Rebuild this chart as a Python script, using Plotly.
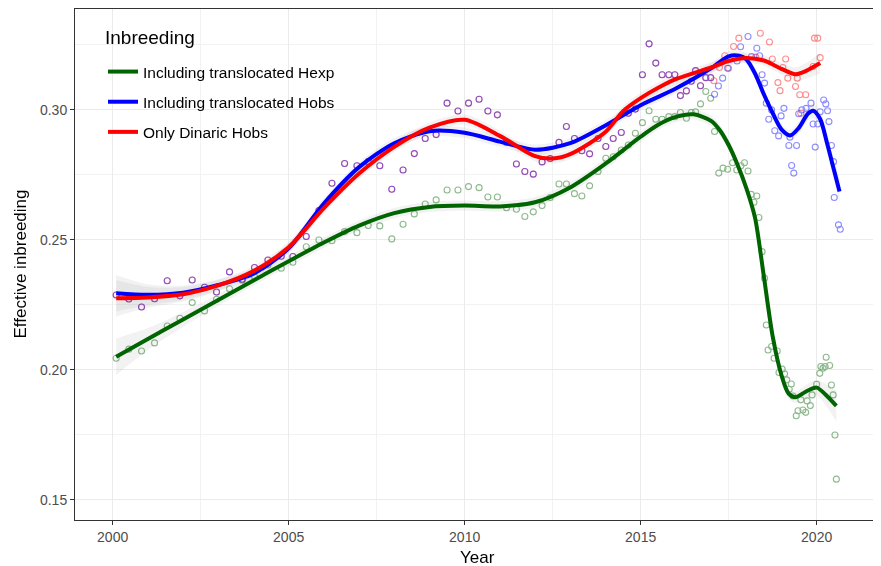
import plotly.graph_objects as go

# ---------------- data ----------------
years_shared = [2000.10, 2000.46, 2000.82, 2001.19, 2001.55, 2001.91, 2002.26, 2002.61, 2002.95, 2003.32,
                2003.68, 2004.03, 2004.41, 2004.79, 2005.12, 2005.50, 2005.86, 2006.23, 2006.59, 2006.94,
                2007.26, 2007.59, 2007.93, 2008.25, 2008.57, 2008.88, 2009.19, 2009.50, 2009.81, 2010.11,
                2010.41, 2010.66, 2010.93, 2011.19, 2011.47, 2011.71, 2011.95, 2012.20, 2012.43, 2012.68,
                2012.89, 2013.12, 2013.33, 2013.55, 2013.79, 2014.01, 2014.22, 2014.45, 2014.65, 2014.85,
                2015.05, 2015.24, 2015.43, 2015.61, 2015.80, 2015.97, 2016.13, 2016.30, 2016.44, 2016.56,
                2016.70, 2016.85, 2016.99]
hobs_shared = [0.2288, 0.2273, 0.2242, 0.2274, 0.2343, 0.2285, 0.2346, 0.2318, 0.2300, 0.2377,
               0.2349, 0.2394, 0.2423, 0.2437, 0.2436, 0.2513, 0.2613, 0.2718, 0.2794, 0.2785,
               0.2801, 0.2785, 0.2695, 0.2769, 0.2832, 0.2890, 0.2905, 0.3026, 0.2996, 0.3026,
               0.3041, 0.2996, 0.2981, 0.2876, 0.2792, 0.2763, 0.2753, 0.2800, 0.2813, 0.2875,
               0.2936, 0.2890, 0.2843, 0.2831, 0.2890, 0.2859, 0.2890, 0.2913, 0.2987, 0.3003,
               0.3135, 0.3254, 0.3180, 0.3135, 0.3135, 0.3135, 0.3055, 0.3073, 0.3110, 0.3151,
               0.3093, 0.3124, 0.3124]
hexp_shared = [0.2045, 0.2080, 0.2073, 0.2104, 0.2169, 0.2199, 0.2259, 0.2227, 0.2272, 0.2312,
               0.2345, 0.2359, 0.2404, 0.2391, 0.2414, 0.2474, 0.2500, 0.2497, 0.2532, 0.2528,
               0.2555, 0.2554, 0.2504, 0.2560, 0.2600, 0.2638, 0.2654, 0.2692, 0.2692, 0.2705,
               0.2701, 0.2665, 0.2665, 0.2624, 0.2618, 0.2590, 0.2608, 0.2632, 0.2663, 0.2715,
               0.2715, 0.2678, 0.2669, 0.2708, 0.2763, 0.2814, 0.2820, 0.2846, 0.2865, 0.2910,
               0.2951, 0.2997, 0.2964, 0.2964, 0.2974, 0.2974, 0.2990, 0.2968, 0.2990, 0.2993,
               0.3023, 0.3071, 0.3045]

years_hexp_late = [2017.10, 2017.22, 2017.34, 2017.47, 2017.61, 2017.73, 2017.85, 2017.95, 2018.05, 2018.14,
                   2018.22, 2018.30, 2018.36, 2018.45, 2018.52, 2018.57, 2018.62, 2018.72, 2018.79, 2018.88,
                   2018.93, 2019.02, 2019.09, 2019.15, 2019.22, 2019.28, 2019.33, 2019.42, 2019.47, 2019.55,
                   2019.61, 2019.69, 2019.73, 2019.82, 2019.87, 2020.00, 2020.09, 2020.12, 2020.18, 2020.24,
                   2020.27, 2020.37, 2020.42, 2020.47, 2020.52, 2020.56]
hexp_late = [0.2917, 0.2757, 0.2776, 0.2772, 0.2797, 0.2769, 0.2785, 0.2797, 0.2765, 0.2675,
             0.2645, 0.2669, 0.2586, 0.2455, 0.2353, 0.2173, 0.2077, 0.2090, 0.2045, 0.2073,
             0.1990, 0.2003, 0.1985, 0.1962, 0.1926, 0.1946, 0.1900, 0.1824, 0.1843, 0.1885,
             0.1846, 0.1837, 0.1881, 0.1863, 0.1904, 0.1945, 0.1987, 0.2013, 0.2007, 0.2013,
             0.2049, 0.2017, 0.1942, 0.1904, 0.1750, 0.1580]

years_hobs_late = [2017.10, 2017.21, 2017.33, 2017.47, 2017.74, 2017.84, 2018.05, 2018.15, 2018.30, 2018.38,
                   2018.45, 2018.52, 2018.57, 2018.64, 2018.72, 2018.81, 2018.92, 2018.99, 2019.07, 2019.21,
                   2019.24, 2019.29, 2019.35, 2019.43, 2019.49, 2019.58, 2019.70, 2019.84, 2019.90, 2019.96,
                   2020.03, 2020.10, 2020.20, 2020.26, 2020.31, 2020.35, 2020.42, 2020.48, 2020.50, 2020.62,
                   2020.67]
hobs_late = [0.3060, 0.3092, 0.3122, 0.3160, 0.3188, 0.3243, 0.3282, 0.3205, 0.3237, 0.3208,
             0.3135, 0.3103, 0.3026, 0.2964, 0.3000, 0.2920, 0.2900, 0.2977, 0.3006, 0.2863,
             0.2895, 0.2786, 0.2757, 0.2863, 0.2985, 0.3000, 0.3006, 0.3026, 0.2946, 0.2857,
             0.2946, 0.2993, 0.3038, 0.3023, 0.2997, 0.2955, 0.2863, 0.2801, 0.2663, 0.2558,
             0.2541]

years_dinaric_late = [2017.08, 2017.24, 2017.39, 2017.50, 2017.64, 2017.79, 2018.27, 2018.40, 2018.66, 2018.74,
                      2018.90, 2018.96, 2019.04, 2019.12, 2019.18, 2019.40, 2019.45, 2019.52, 2019.55, 2019.69,
                      2019.90, 2019.94, 2020.03, 2020.10]
dinaric_late = [0.3112, 0.3163, 0.3208, 0.3160, 0.3244, 0.3276, 0.3203, 0.3295, 0.3261, 0.3196,
                0.3105, 0.3074, 0.3163, 0.3196, 0.3122, 0.3090, 0.3122, 0.3058, 0.2987, 0.3058,
                0.3167, 0.3276, 0.3276, 0.3201]

# smoothed fits and ribbon half-widths
fit_hexp_x = [2000.10, 2001.0, 2002.0, 2003.0, 2004.0, 2005.0, 2006.0, 2007.0, 2008.0, 2009.0,
              2010.0, 2011.0, 2012.0, 2013.0, 2014.0, 2015.0, 2015.5, 2016.0, 2016.5, 2017.0,
              2017.25, 2017.5, 2017.75, 2018.0, 2018.25, 2018.5, 2018.75, 2019.0, 2019.2, 2019.4,
              2019.7, 2020.0, 2020.25, 2020.56]
fit_hexp_y = [0.2051, 0.2119, 0.2194, 0.2269, 0.2344, 0.2418, 0.2490, 0.2555, 0.2603, 0.2627,
              0.2632, 0.2629, 0.2645, 0.2702, 0.2793, 0.2897, 0.2943, 0.2973, 0.2983, 0.2958,
              0.2922, 0.2865, 0.2790, 0.2700, 0.2585, 0.2360, 0.2130, 0.1980, 0.1910, 0.1895,
              0.1917, 0.1932, 0.1906, 0.1862]
fit_hexp_se = [0.0070, 0.0042, 0.0028, 0.0022, 0.0020, 0.0020, 0.0020, 0.0020, 0.0020, 0.0020,
               0.0020, 0.0020, 0.0020, 0.0020, 0.0020, 0.0020, 0.0020, 0.0020, 0.0020, 0.0020,
               0.0020, 0.0020, 0.0020, 0.0020, 0.0020, 0.0020, 0.0020, 0.0020, 0.0020, 0.0022,
               0.0025, 0.0030, 0.0040, 0.0060]

fit_hobs_x = [2000.10, 2001.0, 2002.0, 2003.0, 2004.0, 2005.0, 2006.0, 2007.0, 2008.0, 2009.0,
              2010.0, 2011.0, 2012.0, 2013.0, 2014.0, 2015.0, 2016.0, 2017.0, 2017.5, 2017.8,
              2018.0, 2018.25, 2018.5, 2018.75, 2019.0, 2019.25, 2019.5, 2019.75, 2019.9, 2020.1,
              2020.3, 2020.5, 2020.65]
fit_hobs_y = [0.2295, 0.2289, 0.2297, 0.2327, 0.2370, 0.2468, 0.2640, 0.2780, 0.2872, 0.2918,
              0.2912, 0.2878, 0.2847, 0.2872, 0.2940, 0.3018, 0.3082, 0.3160, 0.3206, 0.3208,
              0.3195, 0.3140, 0.3060, 0.2988, 0.2925, 0.2902, 0.2932, 0.2985, 0.2997, 0.2965,
              0.2870, 0.2765, 0.2686]
fit_hobs_se = [0.0070, 0.0040, 0.0028, 0.0022, 0.0020, 0.0020, 0.0020, 0.0020, 0.0020, 0.0020,
               0.0020, 0.0020, 0.0020, 0.0020, 0.0020, 0.0020, 0.0020, 0.0020, 0.0020, 0.0020,
               0.0020, 0.0020, 0.0020, 0.0020, 0.0020, 0.0020, 0.0022, 0.0025, 0.0028, 0.0030,
               0.0035, 0.0040, 0.0045]

fit_dinaric_x = [2000.10, 2001.0, 2002.0, 2003.0, 2004.0, 2005.0, 2006.0, 2007.0, 2008.0, 2009.0,
                 2010.0, 2011.0, 2012.0, 2012.5, 2013.0, 2014.0, 2014.5, 2015.0, 2015.5, 2016.0,
                 2017.0, 2017.5, 2018.0, 2018.5, 2019.0, 2019.4, 2019.7, 2020.1]
fit_dinaric_y = [0.2276, 0.2279, 0.2291, 0.2325, 0.2380, 0.2472, 0.2622, 0.2755, 0.2858, 0.2932,
                 0.2962, 0.2900, 0.2822, 0.2813, 0.2830, 0.2915, 0.2995, 0.3045, 0.3085, 0.3118,
                 0.3163, 0.3188, 0.3200, 0.3190, 0.3158, 0.3137, 0.3150, 0.3180]
fit_dinaric_se = [0.0070, 0.0040, 0.0028, 0.0022, 0.0020, 0.0020, 0.0020, 0.0020, 0.0020, 0.0020,
                  0.0020, 0.0020, 0.0020, 0.0020, 0.0020, 0.0020, 0.0020, 0.0020, 0.0020, 0.0020,
                  0.0020, 0.0020, 0.0020, 0.0020, 0.0022, 0.0026, 0.0030, 0.0040]

series_names = ["Including translocated Hexp", "Including translocated Hobs", "Only Dinaric Hobs"]
legend_title = "Inbreeding"
x_title = "Year"
y_title = "Effective inbreeding"
x_tick_vals = [2000, 2005, 2010, 2015, 2020]
y_tick_vals = [0.15, 0.20, 0.25, 0.30]
y_tick_text = ["0.15", "0.20", "0.25", "0.30"]

# ---------------- figure ----------------
GREEN, BLUE, RED = "#006400", "#0000FF", "#FF0000"
FONT = "Liberation Sans, Arial, sans-serif"
OFF = 8                      # default page (body) margin of the html file
W, H = 881 - OFF, 566 - OFF
ML, MR, MT, MB = 75 - OFF, 1, 9 - OFF, 46
PW, PH = W - ML - MR, H - MT - MB


def sx(px):  # screen x pixel -> paper coordinate
    return (px - OFF - ML) / PW


def sy(py):  # screen y pixel -> paper coordinate
    return 1 - (py - OFF - MT) / PH


fig = go.Figure()

fits = [
    (fit_hexp_x, fit_hexp_y, fit_hexp_se, GREEN),
    (fit_hobs_x, fit_hobs_y, fit_hobs_se, BLUE),
    (fit_dinaric_x, fit_dinaric_y, fit_dinaric_se, RED),
]

# ribbons
for fx, fy, fse, col in fits:
    lo = [a - b for a, b in zip(fy, fse)]
    hi = [a + b for a, b in zip(fy, fse)]
    fig.add_trace(go.Scatter(x=fx, y=lo, mode="lines",
                             line=dict(width=0, shape="spline", smoothing=0.8),
                             showlegend=False, hoverinfo="skip"))
    fig.add_trace(go.Scatter(x=fx, y=hi, mode="lines",
                             line=dict(width=0, shape="spline", smoothing=0.8),
                             fill="tonexty", fillcolor="rgba(153,153,153,0.13)",
                             showlegend=False, hoverinfo="skip"))

# points (red first, blue over it -> violet where they coincide)
pts = [
    (years_shared + years_hexp_late, hexp_shared + hexp_late, GREEN),
    (years_shared + years_dinaric_late, hobs_shared + dinaric_late, RED),
    (years_shared + years_hobs_late, hobs_shared + hobs_late, BLUE),
]
for px_, py_, col in pts:
    fig.add_trace(go.Scatter(x=px_, y=py_, mode="markers", showlegend=False,
                             marker=dict(symbol="circle-open", size=6, color=col,
                                         line=dict(width=1.1, color=col)),
                             opacity=0.45))

# fitted lines
for fx, fy, fse, col in fits:
    fig.add_trace(go.Scatter(x=fx, y=fy, mode="lines", showlegend=False,
                             line=dict(color=col, width=4, shape="spline", smoothing=0.8)))

# legend entries
for i, (name, col) in enumerate(zip(series_names, [GREEN, BLUE, RED])):
    fig.add_trace(go.Scatter(x=[None], y=[None], mode="lines", name=name,
                             legendgroup=f"g{i}",
                             line=dict(color=col, width=4)))

axis_common = dict(
    showline=True, linecolor="#333333", linewidth=1, mirror=True,
    showgrid=True, gridcolor="#EBEBEB", gridwidth=1.1,
    ticks="outside", ticklen=4, tickwidth=1, tickcolor="#333333",
    tickfont=dict(family=FONT, size=14, color="#4D4D4D"),
    zeroline=False, automargin=False,
)

fig.update_layout(
    width=W, height=H,
    margin=dict(l=ML, r=MR, t=MT, b=MB, autoexpand=False),
    paper_bgcolor="white", plot_bgcolor="white",
    font=dict(family=FONT),
    xaxis=dict(range=[1998.93, 2021.8], tickvals=x_tick_vals,
               minor=dict(showgrid=True, gridcolor="#F2F2F2", gridwidth=0.6, dtick=2.5, tick0=2000),
               **axis_common),
    yaxis=dict(range=[0.1423, 0.3388], tickvals=y_tick_vals, ticktext=y_tick_text,
               minor=dict(showgrid=True, gridcolor="#F2F2F2", gridwidth=0.6, dtick=0.025, tick0=0.15),
               **axis_common),
    legend=dict(x=sx(103), y=sy(55), xanchor="left", yanchor="top",
                bgcolor="rgba(255,255,255,0)", borderwidth=0,
                font=dict(family=FONT, size=15.5, color="black"),
                tracegroupgap=7, itemwidth=30),
    annotations=[
        dict(text=x_title, xref="paper", yref="paper", x=0.5, y=sy(557),
             xanchor="center", yanchor="middle", showarrow=False,
             font=dict(family=FONT, size=17, color="black")),
        dict(text=y_title, xref="paper", yref="paper", x=sx(20), y=0.5,
             xanchor="center", yanchor="middle", textangle=-90, showarrow=False,
             font=dict(family=FONT, size=17, color="black")),
        dict(text=legend_title, xref="paper", yref="paper", x=sx(103), y=sy(37),
             xanchor="left", yanchor="middle", showarrow=False,
             font=dict(family=FONT, size=19, color="black")),
    ],
)

# legend background box (white, like ggplot's legend area)
fig.add_shape(type="rect", xref="paper", yref="paper",
              x0=sx(100), x1=sx(350), y0=sy(150), y1=sy(20),
              fillcolor="white", line=dict(width=0), layer="below")

fig.write_html("out.html")
